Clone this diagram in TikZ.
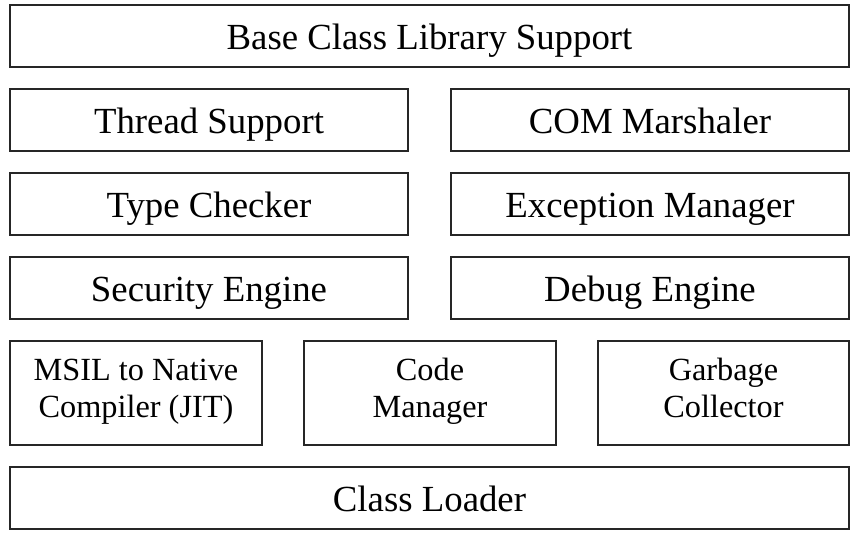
\documentclass[tikz,border=0pt]{standalone}
\usepackage{fontspec}
\setmainfont{Liberation Serif}
\newcommand{\topstrut}{\rule{0pt}{21pt}}
\newcommand{\botstrut}{\rule[-10pt]{0pt}{10pt}}
\begin{document}
\begin{tikzpicture}[x=1pt,y=-1pt,
  blk/.style={draw=black!85,line width=1.6pt,inner sep=0pt,minimum height=62pt,text height=26pt,text depth=0pt,font=\fontsize{36.8}{40}\selectfont},
  sblk/.style={draw=black!85,line width=1.6pt,inner sep=0pt,minimum height=104pt,minimum width=252pt,align=center,font=\fontsize{32.3}{37}\selectfont}]
\useasboundingbox (0,0) rectangle (855,538);
\node[blk,minimum width=839pt] (base) at (429.5,36) {Base Class Library Support};
\node[blk,minimum width=398pt] (thread) at (209,120) {Thread Support};
\node[blk,minimum width=398pt] (com) at (650,120) {COM Marshaler};
\node[blk,minimum width=398pt] (type) at (209,204) {Type Checker};
\node[blk,minimum width=398pt] (exc) at (650,204) {Exception Manager};
\node[blk,minimum width=398pt] (sec) at (209,288) {Security Engine};
\node[blk,minimum width=398pt] (dbg) at (650,288) {Debug Engine};
\node[sblk] (msil) at (136,393) {\topstrut MSIL to Native\\Compiler (JIT)\botstrut};
\node[sblk] (code) at (430,393) {\topstrut Code\\Manager\botstrut};
\node[sblk,minimum width=251pt] (gc) at (723.5,393) {\topstrut Garbage\\Collector\botstrut};
\node[blk,minimum width=839pt] (loader) at (429.5,498) {Class Loader};
\end{tikzpicture}
\end{document}
